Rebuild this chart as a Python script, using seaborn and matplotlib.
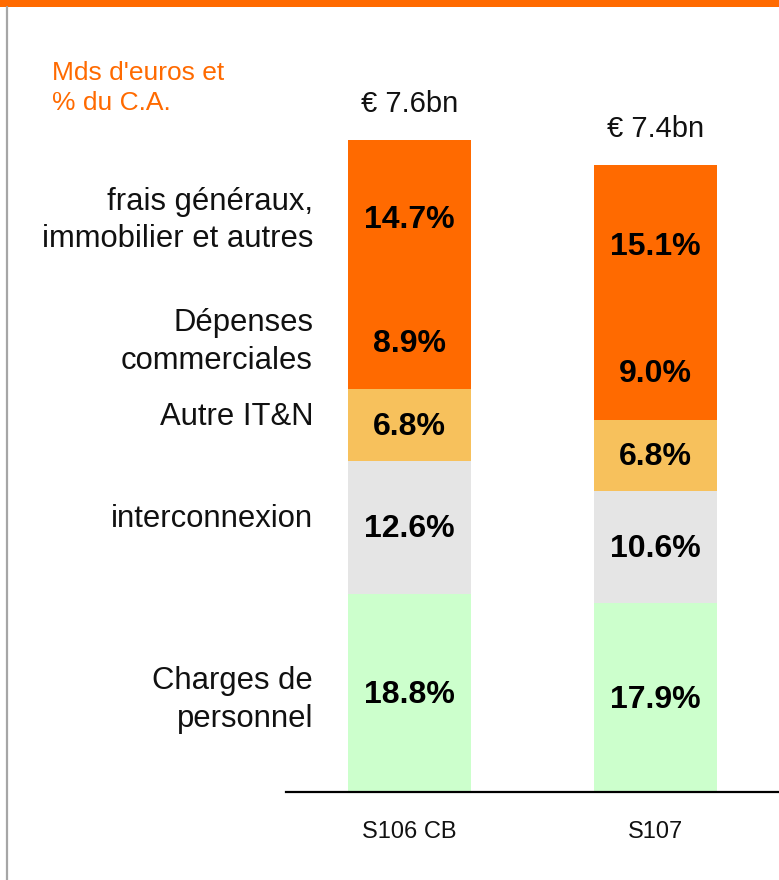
import numpy as np
import pandas as pd
import matplotlib
matplotlib.use("Agg")
import matplotlib.pyplot as plt
from matplotlib.lines import Line2D
from matplotlib.patches import Rectangle
import seaborn as sns

# Cost structure, % of revenue
periods = ["S106 CB", "S107"]
personnel = [18.8, 17.9]
interconnexion = [12.6, 10.6]
autre_itn = [6.8, 6.8]
commerciales = [8.9, 9.0]
frais_generaux = [14.7, 15.1]
totals = ["€ 7.6bn", "€ 7.4bn"]
layer_names = ["Charges de\npersonnel", "interconnexion", "Autre IT&N",
               "Dépenses\ncommerciales", "frais généraux,\nimmobilier et autres"]

ORANGE = "#FF6A00"
colors = ["#CCFFCC", "#E5E5E5", "#F7C15C", ORANGE, ORANGE]
name_nudge_px = [-7, 8, 8, 0, -3]

sns.set_theme(style="white")
plt.rcParams["font.family"] = ["Liberation Sans", "DejaVu Sans"]

layers = [personnel, interconnexion, autre_itn, commerciales, frais_generaux]
df = pd.DataFrame({name: vals for name, vals in zip(layer_names, layers)}, index=periods)
cum = df.cumsum(axis=1)

fig = plt.figure(figsize=(7.79, 8.80), dpi=100)
px_per_unit = 10.55
ax_bottom_px, ax_top_px = 792, 60
ax = fig.add_axes([286 / 779, 1 - ax_bottom_px / 880, 1 - 286 / 779,
                   (ax_bottom_px - ax_top_px) / 880])

# stacked bars: draw cumulative heights from the top layer down
for i in range(len(layer_names) - 1, -1, -1):
    sns.barplot(x=periods, y=cum.iloc[:, i].values, color=colors[i],
                saturation=1, width=0.5, ax=ax, linewidth=0)

ax.set_xlim(-0.5, 1.5)
ax.set_ylim(0, (ax_bottom_px - ax_top_px) / px_per_unit)

# segment value labels
for j, p in enumerate(periods):
    base = 0.0
    for i, name in enumerate(layer_names):
        v = df.loc[p, name]
        ax.annotate(f"{v:.1f}%", xy=(j, base + v / 2), xytext=(0, -2),
                    textcoords="offset pixels", ha="center", va="center",
                    fontsize=23, fontweight="bold", color="black")
        base += v
    ax.annotate(totals[j], xy=(j, base), xytext=(0, 36), textcoords="offset pixels",
                ha="center", va="center", fontsize=21, color="#111111")

# layer names on the left, aligned with the first bar
first = df.loc[periods[0]]
base = 0.0
for i, name in enumerate(layer_names):
    v = first[name]
    yc = base + v / 2
    ax.annotate(name, xy=(0, yc), xycoords=("axes fraction", "data"),
                xytext=(313 - 286, name_nudge_px[i]), textcoords="offset pixels",
                ha="right", va="center", fontsize=22.3, color="#111111",
                multialignment="right", linespacing=1.34, annotation_clip=False)
    base += v

# axes styling
for s in ["left", "right", "top"]:
    ax.spines[s].set_visible(False)
ax.spines["bottom"].set_color("black")
ax.spines["bottom"].set_linewidth(1.6)
ax.set_yticks([])
ax.set_xlabel("")
ax.set_ylabel("")
ax.tick_params(axis="x", length=0, pad=21, labelsize=17, labelcolor="#111111")

# unit note
fig.text(52 / 779, 1 - 61 / 880, "Mds d'euros et\n% du C.A.", ha="left", va="top",
         fontsize=19, color=ORANGE, linespacing=1.33)

# frame decorations: orange band on top, grey rule on the left
fig.add_artist(Rectangle((0, 1 - 7 / 880), 1, 7 / 880, transform=fig.transFigure,
                         facecolor=ORANGE, edgecolor="none"))
fig.add_artist(Line2D([7 / 779, 7 / 779], [0, 1 - 7 / 880], transform=fig.transFigure,
                      color="#A6A6A6", linewidth=1.6))

fig.savefig("out.png", dpi=100, facecolor="white")
